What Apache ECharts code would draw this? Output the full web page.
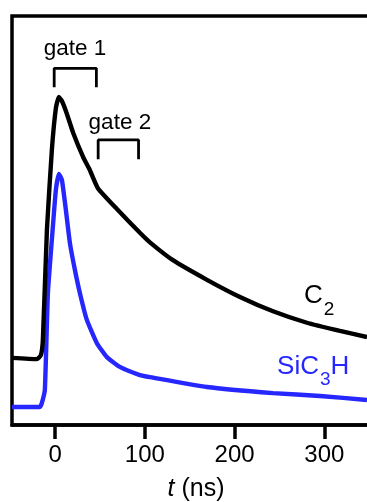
<!DOCTYPE html>
<html><head><meta charset="utf-8">
<script src="https://cdn.jsdelivr.net/npm/echarts@6/dist/echarts.min.js"></script>
<style>html,body{margin:0;padding:0;background:#fff}#c{width:367px;height:502px}</style>
</head><body><div id="c"></div>
<script>
// x-axis tick labels (ns)
const xTicks = [0, 100, 200, 300];
// C2 trace: time (ns) and signal (arbitrary units)
const c2Time   = [-48, -20.3, -15.8, -13.6, -9.1, -3.6, 0.9, 4.2, 7.6, 12.8, 20.2, 31.3, 38.8, 47.7, 68.9, 94.5, 106, 131.3, 169.2, 206, 242.8, 280.6, 317.4, 347.5];
const c2Signal = [16.4, 16.1, 17.1, 20.8, 47.7, 67.2, 77.5, 80.2, 79.2, 76.3, 71.4, 65.5, 62.3, 57.9, 52.8, 47.0, 44.6, 40.3, 35.5, 31.3, 27.8, 25.0, 23.0, 21.5];
// SiC3H trace
const sicTime   = [-48, -16.9, -14.7, -11.4, -8.0, -2.5, 0.9, 4.2, 7.6, 12.0, 16.5, 22.1, 27.6, 35.4, 46.6, 57.7, 72.2, 94.5, 105.6, 169.2, 242.8, 295.1, 347.5];
const sicSignal = [4.4, 4.4, 5.4, 8.6, 32.3, 48.4, 57.5, 61.4, 59.9, 52.6, 44.5, 37.9, 32.3, 25.7, 20.0, 16.6, 14.2, 12.2, 11.7, 9.3, 7.8, 7.1, 6.1];
// gate windows (ns)
const gate1 = [-1, 46];
const gate2 = [48, 93];
const gateNames = ['gate 1', 'gate 2'];
const seriesNames = ['C2', 'SiC3H'];

const FONT = "'Liberation Sans', Arial, Helvetica, sans-serif";
const zip = (a, b) => a.map((v, i) => [v, b[i]]);
const bracket = (g, lo, hi) => [[g[0], lo], [g[0], hi], [g[1], hi], [g[1], lo]];

const chart = echarts.init(document.getElementById('c'), null, {renderer: 'canvas'});
const labelSeries = (items) => ({
  type: 'scatter', symbolSize: 0, silent: true, z: 5,
  itemStyle: {opacity: 1},
  data: items
});
chart.setOption({
  animation: false,
  backgroundColor: '#fff',
  textStyle: {fontFamily: FONT},
  grid: {left: 12, right: -13, top: 16, bottom: 77, show: true, borderColor: '#000', borderWidth: 3.5, containLabel: false, outerBoundsMode: 'none'},
  xAxis: {
    type: 'value', min: -48, max: 362,
    splitLine: {show: false},
    axisLine: {show: true, lineStyle: {color: '#000', width: 3.5}},
    axisTick: {show: true, length: 14, lineStyle: {color: '#000', width: 3.5}, customValues: xTicks},
    axisLabel: {show: true, fontSize: 24, color: '#000', margin: 18, fontFamily: FONT, customValues: xTicks},
    name: '{i|t} (ns)', nameLocation: 'middle', nameGap: 52,
    nameTextStyle: {fontSize: 25, color: '#000', fontFamily: FONT, rich: {i: {fontStyle: 'italic', fontSize: 25, color: '#000', fontFamily: FONT}}}
  },
  yAxis: {type: 'value', min: 0, max: 100, show: false},
  series: [
    {name: seriesNames[1], type: 'line', data: zip(sicTime, sicSignal), showSymbol: false, smooth: 0.15,
     lineStyle: {color: '#2626ff', width: 4.4}, z: 3},
    {name: seriesNames[0], type: 'line', data: zip(c2Time, c2Signal), showSymbol: false, smooth: 0.15,
     lineStyle: {color: '#000', width: 4.4}, z: 4},
    {type: 'line', data: bracket(gate1, 82.6, 87.2), showSymbol: false, lineStyle: {color: '#000', width: 2.8}},
    {type: 'line', data: bracket(gate2, 65.0, 69.7), showSymbol: false, lineStyle: {color: '#000', width: 2.8}},
    labelSeries([
      {value: [22.1, 92.1], label: {show: true, position: [0, 0], align: 'center', verticalAlign: 'middle', formatter: gateNames[0], fontSize: 22.5, color: '#000', fontFamily: FONT}},
      {value: [72.2, 73.8], label: {show: true, position: [0, 0], align: 'center', verticalAlign: 'middle', formatter: gateNames[1], fontSize: 22.5, color: '#000', fontFamily: FONT}},
      {value: [277.4, 34.7], label: {show: true, position: [0, 0], align: 'left', verticalAlign: 'top', formatter: '{b|C}{s|2}',
        rich: {b: {fontSize: 26, lineHeight: 26, verticalAlign: 'top', color: '#000', fontFamily: FONT}, s: {fontSize: 19, lineHeight: 17, padding: [17, 0, 0, 1], verticalAlign: 'top', color: '#000', fontFamily: FONT}}}},
      {value: [247.3, 17.5], label: {show: true, position: [0, 0], align: 'left', verticalAlign: 'top', formatter: '{b|SiC}{s|3}{b|H}',
        rich: {b: {fontSize: 26, lineHeight: 26, verticalAlign: 'top', color: '#2626ff', fontFamily: FONT}, s: {fontSize: 19, lineHeight: 17, padding: [17, 0, 0, 1], verticalAlign: 'top', color: '#2626ff', fontFamily: FONT}}}}
    ])
  ]
});
</script>
</body></html>
